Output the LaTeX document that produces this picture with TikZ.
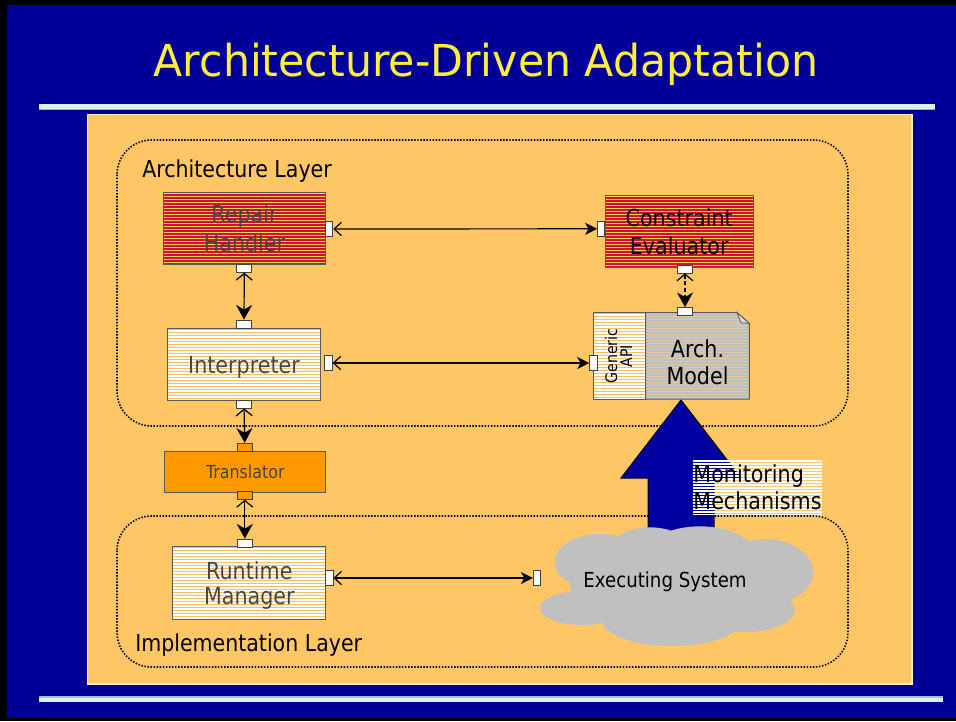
\documentclass[tikz,border=0pt]{standalone}
\usepackage{fontspec}
\setmainfont{DejaVu Sans}
\newfontfamily\slidefont{DejaVu Sans}[FakeStretch=0.88]
\newfontfamily\titlefont{DejaVu Sans}[FakeStretch=0.97]
\usetikzlibrary{arrows.meta}

\definecolor{slideblue}{RGB}{0,0,153}
\definecolor{titleyellow}{RGB}{255,236,64}
\definecolor{panel}{RGB}{255,198,102}
\definecolor{panelrim}{RGB}{255,236,200}
\definecolor{rulemint}{RGB}{214,244,228}
\definecolor{ruleedge}{RGB}{150,170,215}
\definecolor{redbar}{RGB}{200,20,50}
\definecolor{yellowbar}{RGB}{255,210,70}
\definecolor{stripeorange}{RGB}{255,190,90}
\definecolor{transorange}{RGB}{255,153,0}
\definecolor{modelgray}{RGB}{192,192,192}
\definecolor{modelstripe}{RGB}{225,200,160}
\definecolor{cloudgray}{RGB}{192,192,192}
\definecolor{arrowblue}{RGB}{0,0,160}
\definecolor{boxrim}{RGB}{90,90,90}
\definecolor{textgray}{RGB}{70,70,70}

\tikzset{
  hstripes/.style n args={3}{
    fill=#1,
    path picture={
      \foreach \k in {1,4,...,130}
        \draw[draw=#2, line width=#3]
          ([yshift=-\k*0.75pt]path picture bounding box.north west) --
          ([yshift=-\k*0.75pt]path picture bounding box.north east);
    }},
  box/.style={draw=boxrim, line width=0.75pt, inner sep=0pt, align=center,
    text depth=0pt, font=\slidefont\fontsize{17.6}{21}\selectfont},
  porth/.style={draw=black!75, fill=white, line width=0.6pt, inner sep=0pt,
    minimum width=11.25pt, minimum height=6pt},
  portv/.style={draw=black!75, fill=white, line width=0.6pt, inner sep=0pt,
    minimum width=5.5pt, minimum height=11pt},
  layer/.style={draw=black, line width=1.2pt, dash pattern=on 1.1pt off 1.2pt,
    rounded corners=26pt},
  layertitle/.style={anchor=base west, inner sep=0pt,
    font=\slidefont\fontsize{17.5}{20}\selectfont},
  hconn/.style={line width=0.9pt,
    {Straight Barb[length=5.5pt,width=10pt]}-{Stealth[length=9pt,width=9pt,inset=2.5pt]}},
  vconn/.style={line width=0.9pt,
    {Straight Barb[length=5pt,width=12pt]}-{Stealth[length=11pt,width=12pt,inset=3.5pt]}},
}

\begin{document}
\begin{tikzpicture}[x=0.75pt,y=-0.75pt]
\useasboundingbox (0,0) rectangle (956,721);

% slide background with its dark frame
\fill[black] (0,0) rectangle (956,721);
\fill[slideblue] (7,5) rectangle (956,718);

% title and rules
\node[anchor=base, inner sep=0pt, text=titleyellow,
  font=\titlefont\fontsize{33}{36}\selectfont] (title) at (486,76)
  {Architecture-Driven Adaptation};
\fill[rulemint] (39,104) rectangle (935,108.7);
\draw[ruleedge, line width=0.75pt] (39,109.6) -- (935,109.6);
\fill[ruleedge!80] (39,696) rectangle (943,698.3);
\fill[rulemint] (39,698.3) rectangle (943,702);

% content panel
\filldraw[fill=panel, draw=panelrim, line width=0.9pt] (87.5,114.5) rectangle (912,684);

% layers
\draw[layer] (117,140) rectangle (848,426);
\draw[layer] (117,516) rectangle (848,667);
\node[layertitle] (archlayer) at (142,177.7) {Architecture Layer};
\node[layertitle] (impllayer) at (135,651) {Implementation Layer};

% monitoring arrow (drawn under the cloud)
\filldraw[fill=arrowblue, draw=black, line width=0.75pt]
  (681,400) -- (741,478) -- (714,478) -- (714,548) -- (648,548) -- (648,478)
  -- (621,478) -- cycle;

% executing system cloud
\fill[cloudgray]
  (600,562) ellipse [x radius=34pt, y radius=21pt]
  (650,550) ellipse [x radius=30pt, y radius=17pt]
  (700,553) ellipse [x radius=40pt, y radius=20pt]
  (765,572) ellipse [x radius=36pt, y radius=24.75pt]
  (583,608) ellipse [x radius=32.25pt, y radius=12.75pt]
  (672,620) ellipse [x radius=52.5pt, y radius=19.5pt]
  (745,610) ellipse [x radius=37.5pt, y radius=16.5pt]
  (670,585) ellipse [x radius=75pt, y radius=30pt];
\node[inner sep=0pt, text depth=0pt, font=\slidefont\fontsize{15.5}{18}\selectfont]
  (exec) at (665,580) {Executing System};

% components
\node[box, hstripes={redbar}{yellowbar}{0.75pt}, text=textgray,
  minimum width=121.8pt, minimum height=53.7pt,
  font=\slidefont\fontsize{17.6}{21.75}\selectfont]
  (repair) at (244.5,228.5) {Repair\\Handler};
\node[box, hstripes={redbar}{yellowbar}{0.75pt}, text=black,
  minimum width=111.2pt, minimum height=53.7pt]
  (constraint) at (679.2,231.5) {Constraint\\Evaluator};
\node[box, hstripes={white}{stripeorange}{0.75pt}, text=textgray,
  minimum width=115pt, minimum height=54.3pt]
  (interp) at (244,364.5) {Interpreter};
\node[box, fill=transorange, text=textgray,
  minimum width=120.5pt, minimum height=31pt,
  font=\slidefont\fontsize{13.5}{16}\selectfont]
  (transl) at (245.3,471.7) {Translator};
\node[box, hstripes={white}{stripeorange}{1.1pt}, text=textgray,
  minimum width=115pt, minimum height=54.5pt,
  font=\slidefont\fontsize{17.6}{18.75}\selectfont]
  (runtime) at (249.3,583) {Runtime\\Manager};

% architectural model with its generic API
\node[box, hstripes={white}{stripeorange}{0.75pt},
  minimum width=39.3pt, minimum height=64.7pt] (api) at (619.5,355.9) {};
\path[draw=boxrim, line width=0.75pt, hstripes={modelgray}{modelstripe}{0.6pt}]
  (645.7,312.7) -- (737,312.7) -- (749.3,323.3) -- (749.3,399) -- (645.7,399) -- cycle;
\filldraw[fill=modelgray!60, draw=boxrim, line width=0.6pt]
  (737,312.7) -- (741,322.8) -- (749.3,323.3) -- cycle;
\node[inner sep=0pt, align=center, text depth=0pt,
  font=\slidefont\fontsize{17.6}{20.25}\selectfont]
  (model) at (697.5,362) {Arch.\\Model};
\node[inner sep=0pt, align=center, text depth=0pt, rotate=90,
  font=\slidefont\fontsize{12}{11.25}\selectfont]
  (apitext) at (618.5,356) {Generic\\API};

% ports
\node[portv] (rhR) at (329.2,229) {};
\node[porth] (rhB) at (244.3,268.3) {};
\node[portv] (ceL) at (601.2,228.8) {};
\node[porth] (ceB) at (685,269) {};
\node[porth] (amT) at (685,311.5) {};
\node[portv] (apL) at (593.3,363) {};
\node[porth] (inT) at (244,324) {};
\node[porth] (inB) at (244,404) {};
\node[portv] (inR) at (328.5,363) {};
\node[porth, fill=transorange] (trT) at (244.8,447.2) {};
\node[porth, fill=transorange] (trB) at (244.8,495.3) {};
\node[porth] (rmT) at (244.8,543) {};
\node[portv] (rmR) at (329.3,578) {};
\node[portv] (esL) at (537,578) {};

% connectors
\draw[hconn] (rhR) -- (ceL);
\draw[hconn] (inR) -- (apL);
\draw[hconn] (rmR) -- (esL);
\draw[vconn] (rhB) -- (inT);
\draw[vconn] (inB) -- (trT);
\draw[vconn] (trB) -- (rmT);
\draw[vconn, dash pattern=on 3pt off 2pt] (ceB) -- (amT);

% monitoring label
\node[hstripes={none}{white}{1.2pt}, inner sep=0pt, align=left, text depth=0pt,
  minimum width=96.75pt, minimum height=40.5pt,
  font=\slidefont\fontsize{17.6}{20.25}\selectfont]
  (monitor) at (757.5,487) {Monitoring\\Mechanisms};
\end{tikzpicture}
\end{document}
